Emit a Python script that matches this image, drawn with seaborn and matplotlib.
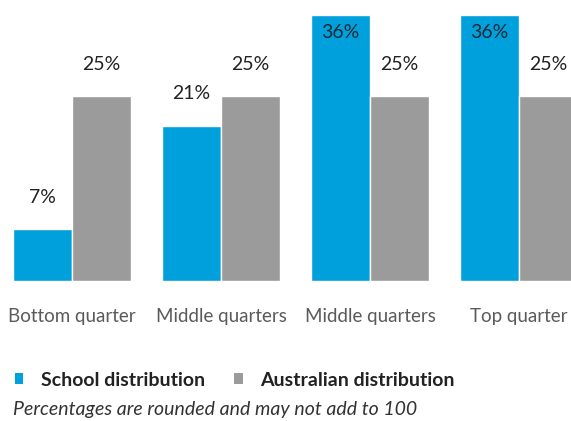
import pandas as pd
import seaborn as sns
import matplotlib.pyplot as plt
from matplotlib.patches import Patch

# Values
categories = ['Bottom quarter', 'Middle quarters', 'Middle quarters ', 'Top quarter']
tick_labels = ['Bottom quarter', 'Middle quarters', 'Middle quarters', 'Top quarter']
school = [7, 21, 36, 36]
australia = [25, 25, 25, 25]
series_names = ['School distribution', 'Australian distribution']
colors = ['#00a0dd', '#9b9b9b']

df = pd.DataFrame({
    'group': categories * 2,
    'value': school + australia,
    'series': [series_names[0]] * 4 + [series_names[1]] * 4,
})

sns.set_style('white')
plt.rcParams['font.family'] = ['Lato', 'DejaVu Sans']

fig = plt.figure(figsize=(5.71, 4.21), dpi=100)
ax = fig.add_axes([0, (421 - 281) / 421, 1, 266 / 421])

sns.barplot(data=df, x='group', y='value', hue='series', palette=colors, saturation=1,
            width=0.79, edgecolor='white', linewidth=1, legend=False, ax=ax)

ax.set_xlim(-72 / 149, (571 - 72) / 149)
ax.set_ylim(0, 36)
ax.set_xlabel('')
ax.set_ylabel('')
ax.set_yticks([])
ax.set_xticks(range(len(tick_labels)))
ax.set_xticklabels(tick_labels, fontsize=13.5, color='#5a5a5a')
ax.tick_params(axis='x', length=0, pad=19.5)
sns.despine(ax=ax, left=True, bottom=True, top=True, right=True)

# value labels: above the bar, or inside when the bar reaches the top
for container in ax.containers:
    for bar in container:
        h = bar.get_height()
        x = bar.get_x() + bar.get_width() / 2
        if h >= 36:
            ax.annotate(f'{h:.0f}%', (x, h), xytext=(0, -18), textcoords='offset pixels',
                        ha='center', va='center', fontsize=14, color='#1a2a36')
        else:
            ax.annotate(f'{h:.0f}%', (x, h), xytext=(0, 32), textcoords='offset pixels',
                        ha='center', va='center', fontsize=14, color='#222222')

handles = [Patch(facecolor=c, edgecolor='none') for c in colors]
leg = fig.legend(handles, series_names, loc='center left', bbox_to_anchor=(15 / 571, (421 - 380) / 421),
                 ncol=2, frameon=False, borderpad=0, borderaxespad=0,
                 handlelength=0.43, handleheight=0.43, handletextpad=0.9,
                 columnspacing=1.5, prop={'family': 'Lato', 'weight': 'bold', 'size': 14})
for t in leg.get_texts():
    t.set_color('#222222')

fig.text(13 / 571, (421 - 410) / 421, 'Percentages are rounded and may not add to 100',
         fontsize=14, style='italic', color='#333333', va='center', ha='left')

fig.savefig('out.png', dpi=100)
